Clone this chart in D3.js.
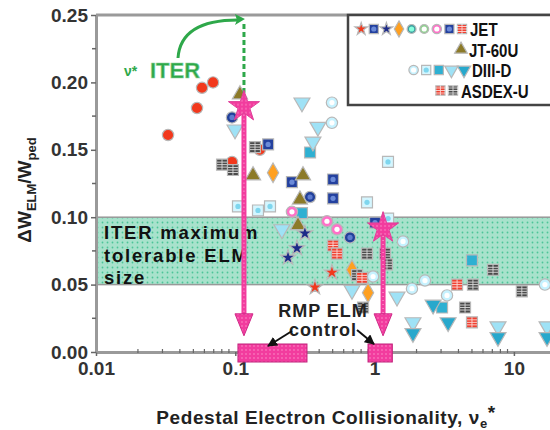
<!DOCTYPE html>
<html>
<head>
<meta charset="utf-8">
<script src="https://cdn.jsdelivr.net/npm/d3@7"></script>
<style>
  body { margin: 0; background: #fff; }
  svg { font-family: "Liberation Sans", Arial, sans-serif; font-weight: bold; }
</style>
</head>
<body>
<script>
// ---- data ----
var xTicks = [0.01, 0.1, 1, 10];
var yTicks = [0, 0.05, 0.10, 0.15, 0.20, 0.25];
var band = [0.05, 0.10];

var jetRedCirc  = [[0.0692,0.200],[0.0577,0.196],[0.0531,0.181],[0.0329,0.161],[0.0947,0.141],[0.150,0.150]];
var jetRedStar  = [[0.373,0.048],[0.494,0.059]];
var jetNavyStar = [[0.316,0.088],[0.277,0.077],[0.239,0.070]];
var jetBlueSq   = [[0.172,0.154],[0.255,0.126],[0.503,0.128],[0.503,0.114],[1.007,0.096]];
var jetNavyCirc = [[0.0947,0.174],[0.344,0.115],[0.666,0.085]];
var jetOrange   = [[0.1866,0.133],[0.688,0.061],[0.897,0.044]];
var jetPink     = [[0.255,0.104],[0.455,0.097],[0.537,0.091]];
var jetRedSq    = [[0.503,0.079],[0.537,0.073],[0.812,0.055]];
var jt60        = [[0.134,0.131],[0.306,0.131],[0.291,0.113],[0.282,0.094],[0.108,0.191]];
var diiiCirc    = [[0.494,0.185],[0.494,0.170],[1.60,0.082],[2.30,0.053],[3.31,0.042],[16.7,0.050],[0.975,0.056],[1.855,0.047]];
var diiiTri     = [[0.301,0.185],[0.392,0.167],[0.361,0.156],[0.0995,0.165],[0.216,0.091],[0.688,0.046],[1.448,0.041],[1.886,0.022],[7.69,0.019],[17.3,0.019]];
var diiiTealTri = [[2.63,0.035],[3.37,0.022],[1.886,0.014],[7.69,0.011],[17.3,0.011]];
var diiiSq      = [[0.1045,0.108],[0.1455,0.105],[0.1775,0.108],[0.882,0.111],[1.248,0.141],[1.25,0.099]];
var diiiTealSq  = [[0.344,0.148],[0.301,0.103],[5.0,0.068],[3.05,0.033]];
var asdexDark   = [[0.0803,0.139],[0.0962,0.135],[0.1385,0.152],[0.882,0.073],[1.188,0.073],[1.227,0.065],[7.08,0.061],[5.08,0.050],[11.4,0.045],[4.46,0.033],[0.826,0.033],[0.748,0.057]];
var asdexRed    = [[3.91,0.050],[5.0,0.022]];

var iterX = [0.1154, 1.15];
var iterY = [0.182, 0.092];
var rmpRanges = [[0.1045, 0.327], [0.897, 1.34]];

// ---- marker styles ----
var styles = {
  redCirc:  {shape: d3.symbolCircle,   fill: "#f2381c", size: 100},
  redStar:  {shape: d3.symbolStar,     fill: "#f2381c", size: 70},
  navyStar: {shape: d3.symbolStar,     fill: "#1c2a88", size: 70},
  blueSq:   {shape: d3.symbolSquare,   fill: "#23409e", size: 120, inner: "#6b8ad8"},
  navyCirc: {shape: d3.symbolCircle,   fill: "#22409a", size: 100, inner: "#5d7bd0"},
  orange:   {shape: d3.symbolDiamond,  fill: "#ffa020", size: 110},
  tealCirc: {shape: d3.symbolCircle,   fill: "#3a9ea0", size: 90, inner: "#8fd"},
  greenCirc:{shape: d3.symbolCircle,   fill: "#8ed08e", size: 90, inner: "#fff"},
  pink:     {shape: d3.symbolCircle,   fill: "#ff70c8", size: 100, inner: "#fff"},
  redSq:    {shape: d3.symbolSquare,   fill: "#f04030", size: 120, cross: true},
  olive:    {shape: d3.symbolTriangle, fill: "#8c7a28", size: 100},
  cyanCirc: {shape: d3.symbolCircle,   fill: "#c6f2ff", size: 100, inner: "#fff"},
  cyanTri:  {shape: d3.symbolTriangle, fill: "#9fe2f6", size: 110, flip: true},
  tealTri:  {shape: d3.symbolTriangle, fill: "#28a8cc", size: 110, flip: true},
  cyanSq:   {shape: d3.symbolSquare,   fill: "#d4f6ff", size: 120, inner: "#7fd6ee"},
  tealSq:   {shape: d3.symbolSquare,   fill: "#2eb0d2", size: 120},
  darkSq:   {shape: d3.symbolSquare,   fill: "#4a4a4a", size: 120, cross: true}
};

var series = [
  {data: diiiSq, style: "cyanSq"}, {data: diiiTealSq, style: "tealSq"},
  {data: diiiCirc, style: "cyanCirc"}, {data: diiiTri, style: "cyanTri"},
  {data: diiiTealTri, style: "tealTri"},
  {data: jetRedCirc, style: "redCirc"}, {data: jetNavyCirc, style: "navyCirc"},
  {data: jetBlueSq, style: "blueSq"}, {data: jetOrange, style: "orange"},
  {data: jetPink, style: "pink"}, {data: jt60, style: "olive"},
  {data: asdexDark, style: "darkSq"}, {data: asdexRed, style: "redSq"},
  {data: jetRedSq, style: "redSq"}, {data: jetRedStar, style: "redStar"},
  {data: jetNavyStar, style: "navyStar"}
];

var legendRows = [
  {label: "JET", keys: ["redStar","blueSq","navyStar","orange","tealCirc","greenCirc","pink","blueSq","redSq"], tx: 470},
  {label: "JT-60U", keys: ["olive"], tx: 469},
  {label: "DIII-D", keys: ["cyanCirc","cyanSq","tealSq","cyanTri","tealTri"], tx: 472},
  {label: "ASDEX-U", keys: ["redSq","darkSq"], tx: 461}
];

// ---- setup ----
var width = 550, height = 430;
var svg = d3.select("body").append("svg")
    .attr("width", width)
    .attr("height", height);

var x = d3.scaleLog().domain([0.01, 30]).range([96, 96 + 139.3 * Math.log10(3000)]);
var y = d3.scaleLinear().domain([0, 0.25]).range([352, 15]);

var defs = svg.append("defs");
var pat = defs.append("pattern").attr("id", "dots")
    .attr("width", 5).attr("height", 5).attr("patternUnits", "userSpaceOnUse");
pat.append("rect").attr("width", 5).attr("height", 5).attr("fill", "#a8e2cc");
pat.append("circle").attr("cx", 2.5).attr("cy", 2.5).attr("r", 0.9).attr("fill", "#4cc598");

var pinkPat = defs.append("pattern").attr("id", "pinkdots")
    .attr("width", 4).attr("height", 4).attr("patternUnits", "userSpaceOnUse");
pinkPat.append("rect").attr("width", 4).attr("height", 4).attr("fill", "#f23c9e");
pinkPat.append("circle").attr("cx", 2).attr("cy", 2).attr("r", 0.7).attr("fill", "#ff9fd0");

// band
svg.append("rect")
    .attr("x", x(0.01)).attr("y", y(band[1]))
    .attr("width", x(30) - x(0.01)).attr("height", y(band[0]) - y(band[1]))
    .attr("fill", "url(#dots)").attr("stroke", "#999").attr("stroke-width", 1.5);

svg.append("g").selectAll("text")
    .data(["ITER maximum", "tolerable ELM", "size"])
    .enter().append("text")
    .attr("x", 104).attr("y", function(d, i) { return 239 + i * 22.5; })
    .attr("font-size", 18.5).attr("letter-spacing", 1.8).attr("fill", "#111")
    .text(function(d) { return d; });

// axes
var xAxis = svg.append("g").attr("transform", "translate(0," + y(0) + ")")
    .call(d3.axisBottom(x).tickValues(xTicks).tickFormat(function(d) { return d; })
      .tickSize(4).tickSizeOuter(0).tickPadding(6));
var yAxis = svg.append("g").attr("transform", "translate(" + x(0.01) + ",0)")
    .call(d3.axisLeft(y).tickValues(yTicks).tickFormat(d3.format(".2f"))
      .tickSize(5).tickSizeOuter(0).tickPadding(3));
[xAxis, yAxis].forEach(function(a) {
  a.select(".domain").attr("stroke", "#9a9a9a").attr("stroke-width", 3);
  a.selectAll(".tick line").attr("stroke", "#666").attr("stroke-width", 1.5);
  a.selectAll(".tick text").attr("font-size", 19).attr("fill", "#333")
    .attr("font-family", "Liberation Sans, Arial, sans-serif");
});
svg.append("line").attr("x1", x(0.01)).attr("x2", x(30)).attr("y1", y(0.25)).attr("y2", y(0.25))
    .attr("stroke", "#9a9a9a").attr("stroke-width", 3);

// minor ticks
var yMinor = [0.025, 0.075, 0.125, 0.175, 0.225];
svg.append("g").selectAll("line").data(yMinor).enter().append("line")
    .attr("x1", x(0.01) - 4).attr("x2", x(0.01))
    .attr("y1", function(d) { return y(d); }).attr("y2", function(d) { return y(d); })
    .attr("stroke", "#666").attr("stroke-width", 1.5);
var xMinor = [];
[0.01, 0.1, 1, 10].forEach(function(dec) {
  for (var k = 2; k <= 9; k++) xMinor.push(dec * k);
});
svg.append("g").selectAll("line").data(xMinor).enter().append("line")
    .attr("x1", function(d) { return x(d); }).attr("x2", function(d) { return x(d); })
    .attr("y1", y(0) - 3).attr("y2", y(0) + 1)
    .attr("stroke", "#666").attr("stroke-width", 1.2);

// axis titles
svg.append("text").attr("x", 326).attr("y", 424).attr("text-anchor", "middle")
    .attr("font-size", 19).attr("letter-spacing", 0.6).attr("fill", "#222")
    .html('Pedestal Electron Collisionality, ν<tspan font-size="13" dy="4">e</tspan><tspan dy="-9">*</tspan>');
svg.append("text").attr("transform", "translate(31,190) rotate(-90)").attr("text-anchor", "middle")
    .attr("font-size", 19).attr("fill", "#222")
    .html('ΔW<tspan font-size="13" dy="5">ELM</tspan><tspan dy="-5">/W</tspan><tspan font-size="13" dy="5">ped</tspan>');

// markers
function drawMarker(sel, st) {
  sel.append("path")
    .attr("d", d3.symbol(st.shape, st.size))
    .attr("transform", st.flip ? "rotate(180)" : null)
    .attr("fill", st.fill).attr("stroke", "#b8b8b8").attr("stroke-width", 1.2);
  if (st.inner) {
    sel.append("circle").attr("r", 2.6).attr("fill", st.inner);
  }
  if (st.cross) {
    sel.append("path").attr("d", "M-5,0H5M0,-5V5M-5,-2.5H5M-5,2.5H5")
      .attr("stroke", "#fff").attr("stroke-width", 0.9).attr("opacity", 0.8);
  }
}

var mk = svg.append("g");
series.forEach(function(s) {
  var st = styles[s.style];
  mk.selectAll(null).data(s.data).enter().append("g")
    .attr("transform", function(d) { return "translate(" + x(d[0]) + "," + y(d[1]) + ")"; })
    .each(function() { drawMarker(d3.select(this), st); });
});

// ITER label, green arrow and dashed line
var green = "#2ea84a";
svg.append("path")
    .attr("d", "M178,58 C180,30 205,20 " + (x(iterX[0]) - 6) + ",20")
    .attr("fill", "none").attr("stroke", green).attr("stroke-width", 3);
svg.append("path")
    .attr("d", "M" + (x(iterX[0]) + 1) + ",19 l-10,-5 l2,6 l-2,5 z")
    .attr("fill", green);
svg.append("line")
    .attr("x1", x(iterX[0])).attr("x2", x(iterX[0]))
    .attr("y1", 24).attr("y2", y(iterY[0]) - 14)
    .attr("stroke", green).attr("stroke-width", 3).attr("stroke-dasharray", "5,3");
svg.append("text").attr("x", 150).attr("y", 78).attr("font-size", 22).attr("fill", green)
    .attr("stroke", "#8fd39e").attr("stroke-width", 0.6).text("ITER");
svg.append("text").attr("x", 124).attr("y", 76).attr("font-size", 14).attr("fill", green)
    .text("ν*");

// RMP ranges on the axis
svg.append("g").selectAll("rect").data(rmpRanges).enter().append("rect")
    .attr("x", function(d) { return x(d[0]); })
    .attr("width", function(d) { return x(d[1]) - x(d[0]); })
    .attr("y", y(0) - 8).attr("height", 18)
    .attr("fill", "url(#pinkdots)").attr("stroke", "#c0207a").attr("stroke-width", 1);

// pink arrows + stars
var tipY = y(0.012);
iterX.forEach(function(xv, i) {
  var px = x(xv), py = y(iterY[i]);
  svg.append("line").attr("x1", px).attr("x2", px).attr("y1", py).attr("y2", tipY - 18)
    .attr("stroke", "#f23c9e").attr("stroke-width", 5);
  svg.append("line").attr("x1", px).attr("x2", px).attr("y1", py).attr("y2", tipY - 18)
    .attr("stroke", "#ffc0e0").attr("stroke-width", 1).attr("stroke-dasharray", "1,3");
  svg.append("path").attr("d", "M" + (px - 9) + "," + (tipY - 22) + "L" + (px + 9) + "," + (tipY - 22) + "L" + px + "," + tipY + "Z")
    .attr("fill", "url(#pinkdots)").attr("stroke", "#d02a88");
  svg.append("path").attr("d", d3.symbol(d3.symbolStar, 300))
    .attr("transform", "translate(" + px + "," + py + ")")
    .attr("fill", "url(#pinkdots)").attr("stroke", "#e0409a").attr("stroke-width", 1);
});

// RMP ELM control label
svg.append("g").selectAll("text").data(["RMP ELM", "control"]).enter().append("text")
    .attr("x", 323).attr("y", function(d, i) { return 317 + i * 19; })
    .attr("text-anchor", "middle").attr("font-size", 18).attr("letter-spacing", 1)
    .attr("fill", "#222").text(function(d) { return d; });
defs.append("marker").attr("id", "blk").attr("viewBox", "0 0 10 10")
    .attr("refX", 9).attr("refY", 5).attr("markerWidth", 5).attr("markerHeight", 5)
    .attr("orient", "auto")
  .append("path").attr("d", "M0,0L10,5L0,10z").attr("fill", "#111");
svg.append("line").attr("x1", 292).attr("y1", 331).attr("x2", 268).attr("y2", 346)
    .attr("stroke", "#111").attr("stroke-width", 2).attr("marker-end", "url(#blk)");
svg.append("line").attr("x1", 357).attr("y1", 330).attr("x2", 374).attr("y2", 344)
    .attr("stroke", "#111").attr("stroke-width", 2).attr("marker-end", "url(#blk)");

// legend
var lg = svg.append("g");
lg.append("rect").attr("x", 348).attr("y", 15).attr("width", 260).attr("height", 90)
    .attr("fill", "#fff").attr("stroke", "#444").attr("stroke-width", 2.5);
legendRows.forEach(function(row, r) {
  var cy = 29 + r * 20.5;
  var last = row.tx - 8;
  row.keys.forEach(function(k, j) {
    var g = lg.append("g").attr("transform", "translate(" + (last - (row.keys.length - 1 - j) * 12.6) + "," + cy + ")");
    var st = Object.assign({}, styles[k], {size: styles[k].size * 0.7});
    drawMarker(g, st);
  });
  lg.append("text")
    .attr("transform", "translate(" + row.tx + "," + (cy + 7) + ") scale(0.86,1)")
    .attr("font-size", 17.5).attr("fill", "#111").text(row.label);
});
</script>
</body>
</html>
